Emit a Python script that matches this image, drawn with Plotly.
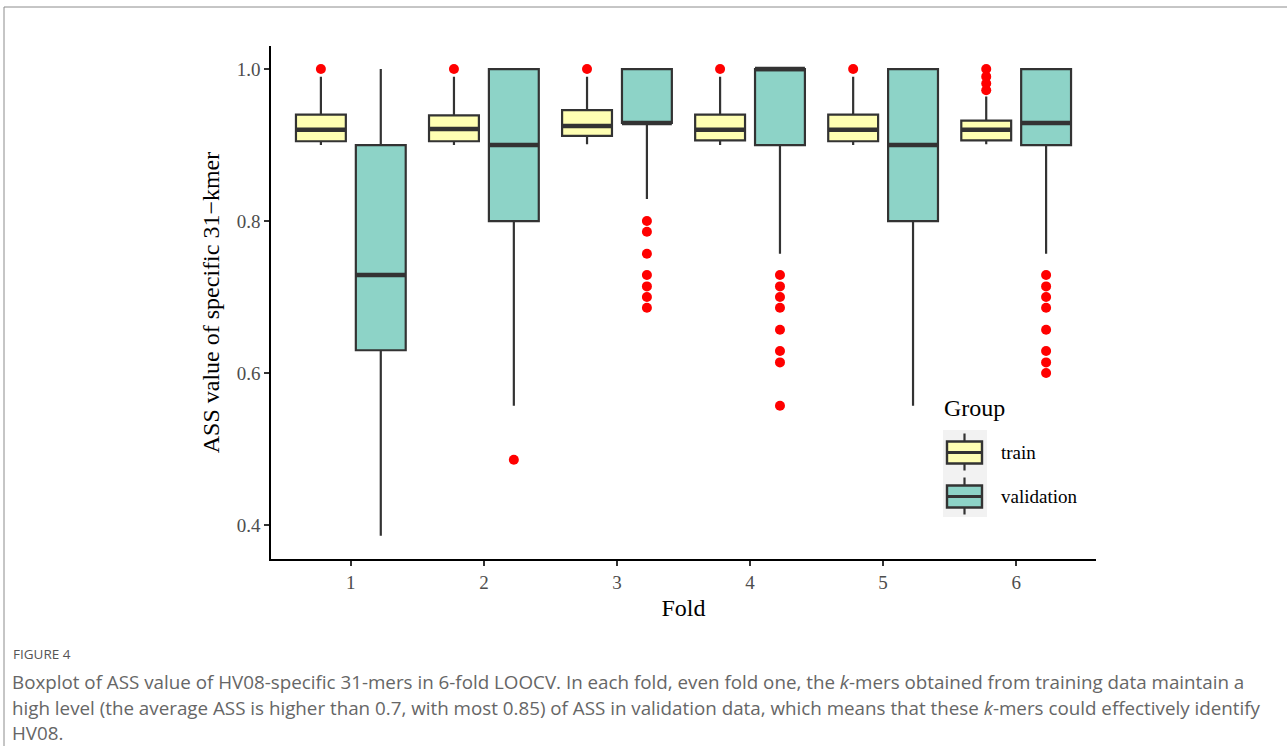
import plotly.graph_objects as go

# ---------------- data ----------------
folds = [1, 2, 3, 4, 5, 6]

train_q1 = [0.905, 0.905, 0.912, 0.906, 0.905, 0.906]
train_median = [0.920, 0.921, 0.925, 0.920, 0.920, 0.920]
train_q3 = [0.940, 0.939, 0.946, 0.940, 0.940, 0.932]
train_lower = [0.900, 0.900, 0.901, 0.900, 0.900, 0.901]
train_upper = [0.990, 0.990, 0.990, 0.990, 0.990, 0.964]
train_outliers = [[1.0], [1.0], [1.0], [1.0], [1.0], [1.0, 0.990, 0.981, 0.972]]

val_q1 = [0.630, 0.800, 0.929, 0.900, 0.800, 0.900]
val_median = [0.729, 0.900, 0.929, 1.000, 0.900, 0.929]
val_q3 = [0.900, 1.000, 1.000, 1.000, 1.000, 1.000]
val_lower = [0.386, 0.557, 0.829, 0.757, 0.557, 0.757]
val_upper = [1.000, 1.000, 1.000, 1.000, 1.000, 1.000]
val_outliers = [
    [],
    [0.486],
    [0.800, 0.786, 0.757, 0.729, 0.714, 0.700, 0.686],
    [0.729, 0.714, 0.700, 0.686, 0.657, 0.629, 0.614, 0.557],
    [],
    [0.729, 0.714, 0.700, 0.686, 0.657, 0.629, 0.614, 0.600],
]

groups = ["train", "validation"]
legend_title = "Group"
y_ticks = [0.4, 0.6, 0.8, 1.0]

caption_label = "FIGURE 4"
caption_lines = [
    "Boxplot of ASS value of HV08-specific 31-mers in 6-fold LOOCV. In each fold, even fold one, the <i>k</i>-mers obtained from training data maintain a",
    "high level (the average ASS is higher than 0.7, with most 0.85) of ASS in validation data, which means that these <i>k</i>-mers could effectively identify",
    "HV08.",
]

# ---------------- styles ----------------
FILL = {"train": "#FFFFB3", "validation": "#8DD3C7"}
LINE = "#333333"
SERIF = "Liberation Serif, Times New Roman, serif"
SANS = "Open Sans, Noto Sans, sans-serif"

stats = {
    "train": (train_q1, train_median, train_q3, train_lower, train_upper, train_outliers),
    "validation": (val_q1, val_median, val_q3, val_lower, val_upper, val_outliers),
}

fig = go.Figure()
for g in groups:
    q1, med, q3, lo, hi, outs = stats[g]
    # sample points per box: the whisker ends (observed extremes) plus the outliers;
    # only values beyond the fences are drawn (boxpoints="outliers")
    samples = [[lo[i], hi[i]] + list(outs[i]) for i in range(len(folds))]
    fig.add_trace(go.Box(
        x=folds, q1=q1, median=med, q3=q3, lowerfence=lo, upperfence=hi,
        y=samples, boxpoints="outliers", pointpos=0, jitter=0,
        name=g, legendgroup=g, offsetgroup=g, alignmentgroup="a",
        fillcolor=FILL[g], line=dict(color=LINE, width=2.2), whiskerwidth=0,
        marker=dict(color="#FF0000", size=10, line=dict(width=0)),
        hoverinfo="skip", showlegend=False,
    ))
for g in groups:
    q1, med, q3, lo, hi, outs = stats[g]
    # thick median bar (ggplot's fattened median line)
    fig.add_trace(go.Box(
        x=folds, q1=med, median=med, q3=med, lowerfence=med, upperfence=med,
        boxpoints=False, name=g, legendgroup=g, offsetgroup=g, alignmentgroup="a",
        fillcolor="rgba(0,0,0,0)", line=dict(color=LINE, width=4.5), whiskerwidth=0,
        showlegend=False, hoverinfo="skip",
    ))

L, R, T, B = 271, 191, 46, 187
W, H = 1287, 746
pw, ph = W - L - R, H - T - B


def px_x(x):
    return (x - L) / pw


def px_y(y):
    return (H - B - y) / ph


annotations = [
    dict(text=caption_label, x=px_x(12), y=px_y(654), xref="paper", yref="paper",
         xanchor="left", yanchor="middle", showarrow=False, borderpad=0,
         font=dict(family=SANS, size=13.5, color="#555555")),
]
for i, ln in enumerate(caption_lines):
    annotations.append(dict(
        text=ln, x=px_x(11), y=px_y(682 + 25.5 * i), xref="paper", yref="paper",
        xanchor="left", yanchor="middle", showarrow=False, borderpad=0,
        font=dict(family=SANS, size=18.8, color="#666666")))

shapes = [
    # outer figure frame
    dict(type="rect", xref="paper", yref="paper", x0=px_x(4), x1=px_x(1400),
         y0=px_y(900), y1=px_y(7), line=dict(color="#8c8c8c", width=1),
         fillcolor="rgba(0,0,0,0)", layer="below"),
    # grey legend key background
    dict(type="rect", xref="paper", yref="paper", x0=px_x(943), x1=px_x(987),
         y0=px_y(517), y1=px_y(430), line=dict(width=0), fillcolor="#F2F2F2",
         layer="below"),
]

# ---- legend (ggplot-style keys drawn as shapes) ----
annotations.append(dict(
    text=legend_title, x=px_x(942), y=px_y(408), xref="paper", yref="paper",
    xanchor="left", yanchor="middle", showarrow=False,
    font=dict(family=SERIF, size=24, color="black")))
for i, g in enumerate(groups):
    cy = 452.5 + 44 * i
    xc = 964.5
    shapes.append(dict(type="line", xref="paper", yref="paper",
                       x0=px_x(xc), x1=px_x(xc), y0=px_y(cy - 19), y1=px_y(cy + 18),
                       line=dict(color=LINE, width=2.2)))
    shapes.append(dict(type="rect", xref="paper", yref="paper",
                       x0=px_x(947), x1=px_x(982), y0=px_y(cy + 11), y1=px_y(cy - 11),
                       line=dict(color=LINE, width=2.4), fillcolor=FILL[g]))
    shapes.append(dict(type="line", xref="paper", yref="paper",
                       x0=px_x(947), x1=px_x(982), y0=px_y(cy), y1=px_y(cy),
                       line=dict(color=LINE, width=3)))
    annotations.append(dict(
        text=g, x=px_x(999), y=px_y(cy), xref="paper", yref="paper",
        xanchor="left", yanchor="middle", showarrow=False,
        font=dict(family=SERIF, size=19, color="black")))

fig.update_layout(
    width=W, height=H,
    margin=dict(l=L, r=R, t=T, b=B, pad=0),
    paper_bgcolor="white", plot_bgcolor="white",
    boxmode="group", boxgap=0.1, boxgroupgap=0.167,
    showlegend=False,
    annotations=annotations,
    shapes=shapes,
    xaxis=dict(
        range=[0.4, 6.6], tickvals=folds, ticktext=[str(f) for f in folds],
        showgrid=False, zeroline=False, showline=True, linecolor="black", linewidth=1.5,
        ticks="outside", ticklen=5, tickwidth=1.5, tickcolor="#333333",
        tickfont=dict(family=SERIF, size=19, color="#4D4D4D"),
        title=dict(text="Fold", font=dict(family=SERIF, size=24, color="black"), standoff=8),
    ),
    yaxis=dict(
        range=[0.3553, 1.0303], tickvals=y_ticks, tickformat=".1f",
        showgrid=False, zeroline=False, showline=True, linecolor="black", linewidth=1.5,
        ticks="outside", ticklen=5, tickwidth=1.5, tickcolor="#333333",
        tickfont=dict(family=SERIF, size=19, color="#4D4D4D"),
        title=dict(text="ASS value of specific 31\u2212kmer",
                   font=dict(family=SERIF, size=24, color="black"), standoff=10),
    ),
)

fig.write_html("out.html")
